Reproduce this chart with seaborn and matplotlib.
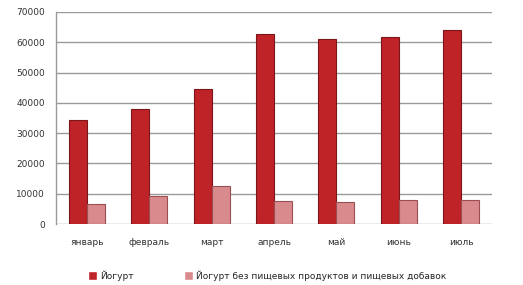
import matplotlib
matplotlib.use("Agg")
import matplotlib.pyplot as plt
import seaborn as sns
import pandas as pd

months = ["январь", "февраль", "март", "апрель", "май", "июнь", "июль"]
series_names = ["Йогурт", "Йогурт без пищевых продуктов и пищевых добавок"]
yogurt = [34500, 38000, 44500, 62600, 61200, 61800, 64200]
yogurt_plain = [6500, 9300, 12500, 7500, 7200, 7900, 7900]
yticks = [0, 10000, 20000, 30000, 40000, 50000, 60000, 70000]

df = pd.DataFrame({
    "month": months * 2,
    "series": [series_names[0]] * len(months) + [series_names[1]] * len(months),
    "value": yogurt + yogurt_plain,
})

sns.set_theme(style="white")
plt.rcParams["font.family"] = ["DejaVu Sans"]

fig = plt.figure(figsize=(5.23, 2.85), dpi=100)
ax = fig.add_axes([0.107, 0.214, 0.834, 0.744])

colors = ["#BE2328", "#D98A8D"]
sns.barplot(data=df, x="month", y="value", hue="series", palette=colors,
            width=0.58, ax=ax, saturation=1, legend=True)

edge = ["#7A1518", "#9A5053"]
for i, cont in enumerate(ax.containers):
    for b in cont:
        b.set_edgecolor(edge[i])
        b.set_linewidth(0.8)

ax.set_ylim(0, 70000)
ax.set_yticks(yticks)
ax.set_yticklabels([str(t) for t in yticks], fontsize=6.5, color="#333333")
ax.tick_params(axis="x", labelsize=6.5, colors="#333333", length=0, pad=10)
ax.tick_params(axis="y", length=0, pad=8)
ax.set_xlabel("")
ax.set_ylabel("")
ax.set_xlim(-0.5, len(months) - 0.5)
ax.yaxis.grid(True, color="#9a9a9a", linewidth=1)
ax.set_axisbelow(True)
for s in ["top", "right", "bottom"]:
    ax.spines[s].set_visible(False)
ax.spines["left"].set_color("#9a9a9a")
ax.spines["left"].set_linewidth(1)

handles, labels = ax.get_legend_handles_labels()
ax.legend(handles, labels, loc="lower left", bbox_to_anchor=(0.055, -0.305),
          ncol=2, frameon=False, fontsize=6.5, handlelength=1.0,
          handleheight=1.0, handletextpad=0.3, columnspacing=5.6)

fig.savefig("out.png", dpi=100)
